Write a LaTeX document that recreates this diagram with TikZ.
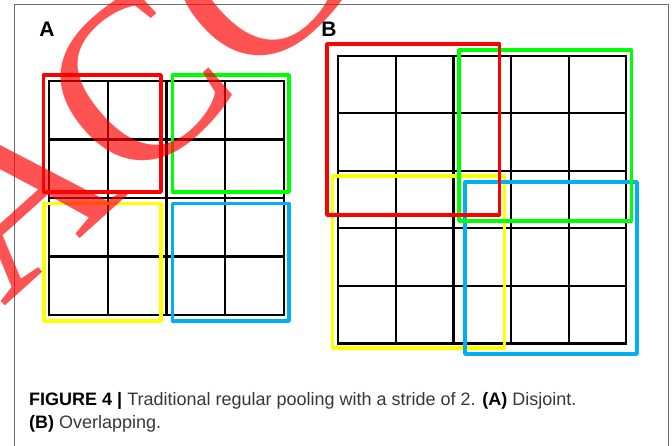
\documentclass[tikz,border=0pt]{standalone}
\usepackage{fontspec}
\setmainfont{Liberation Sans}
\newfontfamily\wmfont{Liberation Serif}
\definecolor{boxred}{RGB}{255,0,0}
\definecolor{boxgreen}{RGB}{0,255,0}
\definecolor{boxyellow}{RGB}{255,255,0}
\definecolor{boxblue}{RGB}{0,176,240}
\definecolor{captext}{RGB}{55,55,55}
\definecolor{framegray}{RGB}{110,110,110}
\begin{document}
\begin{tikzpicture}[x=1pt,y=-1pt,
  gridline/.style={black,line width=2.2pt,line cap=rect},
  poolbox/.style={line width=3.6pt,line join=round},
  panellabel/.style={font=\fontsize{21}{21}\selectfont\bfseries,inner sep=0pt,anchor=base},
  captionline/.style={font=\fontsize{18}{18}\selectfont,text=captext,inner sep=0pt,anchor=base west},
  watermark/.style={font=\wmfont\fontsize{235}{235}\selectfont,text=red,opacity=0.68,inner sep=0pt,anchor=base west,rotate=42}]
\useasboundingbox (0,0) rectangle (672,445);
\clip (0,0) rectangle (672,445);
\fill[white] (0,0) rectangle (672,445);
% frame
\draw[framegray,line width=1pt] (14,446) -- (14,4.3) -- (668,4.3) -- (668,446);
% panel labels
\node[panellabel] (labA) at (47,36.5) {A};
\node[panellabel] (labB) at (329,36.5) {B};
% grid A (4x4)
\foreach \i in {0,...,4} {
  \draw[gridline] ({49+\i*58.75},81) -- ({49+\i*58.75},315);
  \draw[gridline] (49,{81+\i*58.5}) -- (284,{81+\i*58.5});
}
% grid B (5x5)
\foreach \i in {0,...,5} {
  \draw[gridline] ({338.3+\i*57.6},55.7) -- ({338.3+\i*57.6},343.5);
  \draw[gridline] (338.3,{55.7+\i*57.56}) -- (626.3,{55.7+\i*57.56});
}
% pooling boxes A (disjoint)
\draw[poolbox,boxred] (43.5,75) rectangle (161,192);
\draw[poolbox,boxgreen] (172.5,75) rectangle (289,192);
\draw[poolbox,boxyellow] (44,203.5) rectangle (161,321);
\draw[poolbox,boxblue] (172.5,203.5) rectangle (289,321);
% pooling boxes B (overlapping)
\draw[poolbox,boxyellow] (332.5,176) rectangle (504.5,348);
\draw[poolbox,boxblue] (465,182) rectangle (637,354);
\draw[poolbox,boxgreen] (459,50) rectangle (631.5,221);
\draw[poolbox,boxred] (327,44) rectangle (499.5,215);
% caption
\node[captionline] (cap1) at (29,405) {{\bfseries\color{black}FIGURE 4 |} Traditional regular pooling with a stride of 2. {\bfseries\color{black}(A)} Disjoint.};
\node[captionline] (cap2) at (29,428) {{\bfseries\color{black}(B)} Overlapping.};
% watermark
\node[watermark] (wm) at (3.5,308) {ACCEPTED};
\end{tikzpicture}
\end{document}
